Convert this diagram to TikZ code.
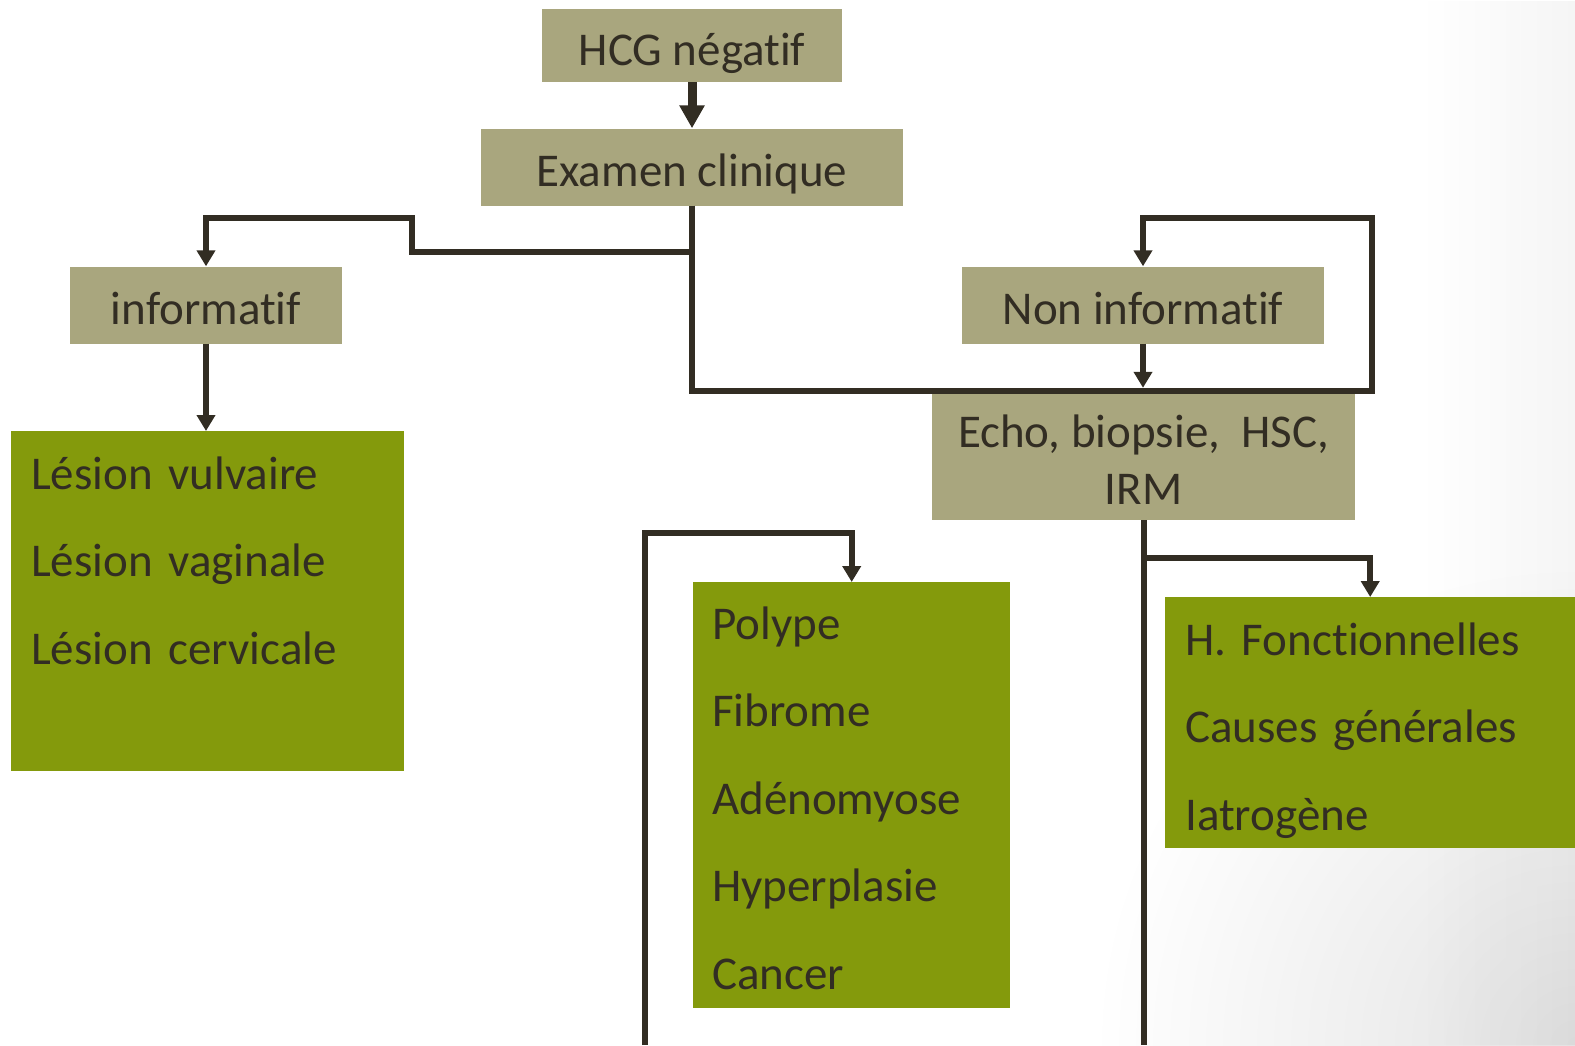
\documentclass[tikz,border=0pt]{standalone}
\usepackage{fontspec}
\setmainfont{Carlito}[Ligatures=NoCommon]
\usepackage{tikz}
\usetikzlibrary{arrows.meta, fadings}
\definecolor{boxtan}{HTML}{A9A67E}
\definecolor{boxgreen}{HTML}{849A0C}
\definecolor{ink}{HTML}{322D23}
\tikzfading[name=cornerfade, inner color=transparent!0, outer color=transparent!100]

\begin{document}
\begin{tikzpicture}[x=1pt, y=-1pt,
      tanbox/.style={fill=boxtan, text=ink, inner sep=0pt, font=\fontsize{47}{57}\selectfont},
      oneline/.style={tanbox, text height=44pt, text depth=5pt},
      greenbox/.style={fill=boxgreen, anchor=north west, inner sep=0pt},
      listtext/.style={anchor=base west, align=left, text width=380pt, text=ink, inner sep=0pt,
        font=\fontsize{47}{87.5}\selectfont},
      wire/.style={draw=ink, line width=6pt},
      link/.style={wire, -{Triangle[width=18pt,length=16pt]}},
      bigarrow/.style={draw=ink, line width=9pt, -{Triangle[width=24pt,length=23pt]}}]
      \useasboundingbox (0,0) rectangle (1575,1045);
      % light shadow at the right edge
      \begin{scope}
        \clip (0,0) rectangle (1575,1045);
        \fill[black, opacity=0.04, path fading=west] (1420,0) rectangle (1575,1045);
        \fill[black, opacity=0.11, path fading=cornerfade] (1575,1045) circle (480);
      \end{scope}

      \node[oneline, minimum width=300pt, minimum height=73pt] (hcg) at (692,45.5) {HCG négatif};
      \node[oneline, minimum width=422pt, minimum height=77pt] (examen) at (692,167) {Examen clinique};
      \node[oneline, minimum width=272pt, minimum height=77pt] (info) at (206,305) {informatif};
      \node[oneline, minimum width=362pt, minimum height=77pt] (noninfo) at (1143,305) {Non informatif};
      \node[tanbox, minimum width=423pt, minimum height=132pt, align=center] (echo) at (1143.5,454)
        {\rule{0pt}{43pt}Echo, biopsie,\ \ HSC,\\IRM};

      \node[greenbox, minimum width=393pt, minimum height=340pt] (lesions) at (11,431) {};
      \node[listtext] (lesionstext) at (31,489) {Lésion vulvaire\\Lésion vaginale\\Lésion cervicale};
      \node[greenbox, minimum width=317pt, minimum height=426pt] (uterus) at (693,582) {};
      \node[listtext] (uterustext) at (712,639) {Polype\\Fibrome\\Adénomyose\\Hyperplasie\\Cancer};
      \node[greenbox, minimum width=410pt, minimum height=251pt] (other) at (1165,597) {};
      \node[listtext] (othertext) at (1185,655) {H. Fonctionnelles\\Causes générales\\Iatrogène};

      \coordinate (echofoot) at (echo.south |- 0,1045);
      \coordinate (loopfoot) at (645,1045);

      \draw[bigarrow] (hcg) -- (examen);
      \draw[link] (examen.south) |- (412,252) |- (info.north |- 0,218) -- (info.north);
      \draw[link] (examen.south) |- (1372,391) |- (noninfo.north |- 0,218) -- (noninfo.north);
      \draw[link] (info) -- (info.south |- lesions.north);
      \draw[link] (noninfo) -- (noninfo.south |- echo.north);
      \draw[wire] (echo.south) -- (echofoot);
      \draw[link] (echo.south |- 0,558) -| (other.north);
      \draw[link] (loopfoot) |- (uterus.north |- 0,533) -- (uterus.north);
    \end{tikzpicture}
\end{document}
